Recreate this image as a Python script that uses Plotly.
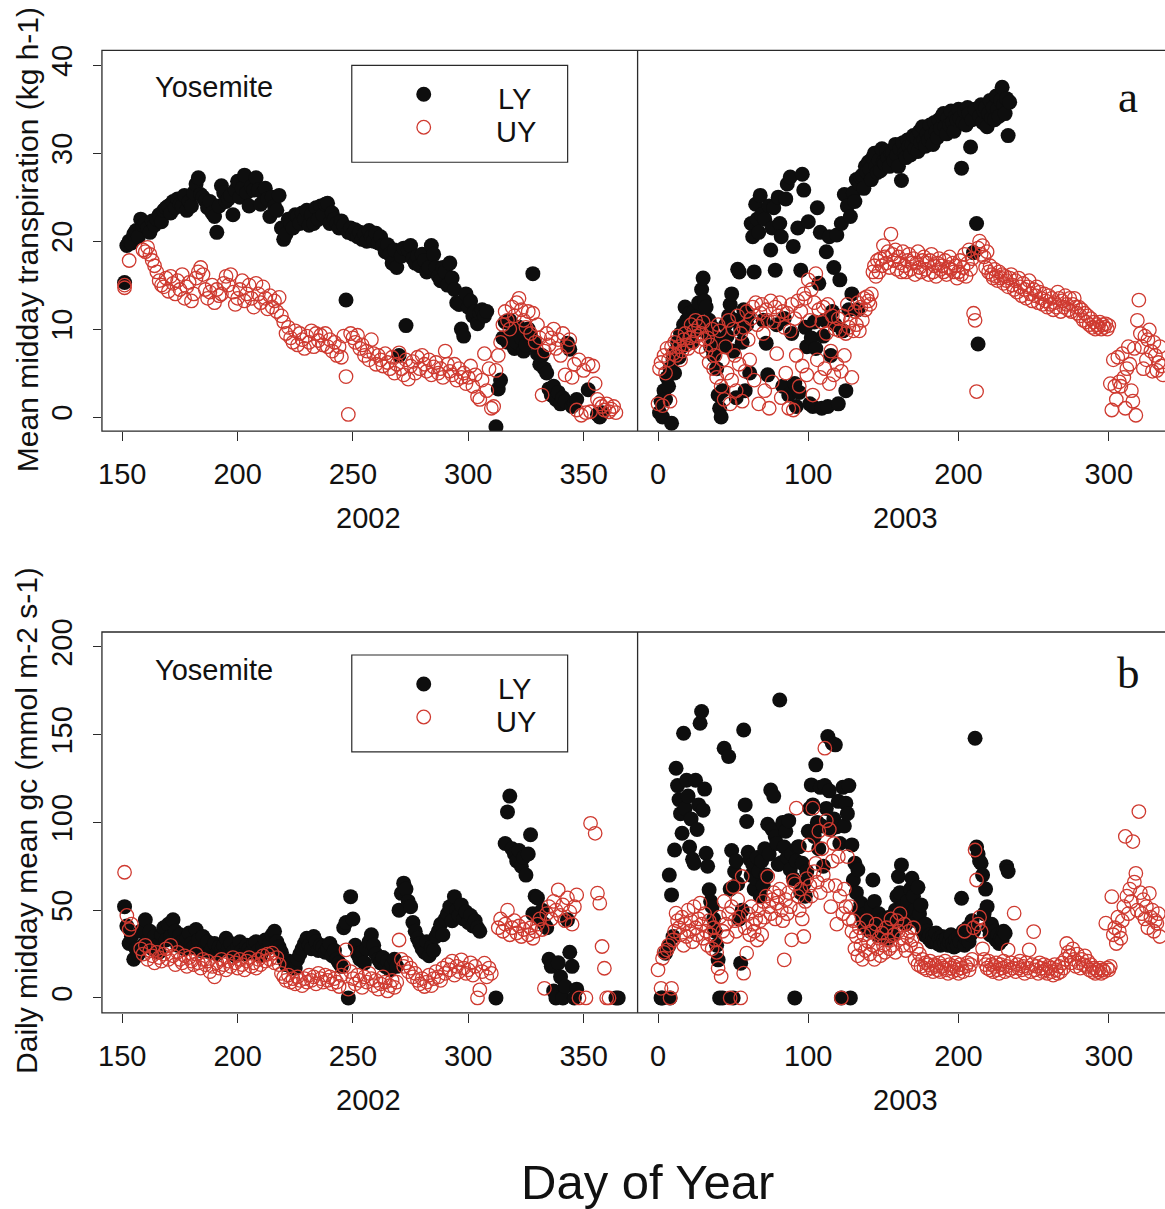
import plotly.graph_objects as go

# ---------------- data (day of year, value) ----------------
# Panel a: mean midday transpiration (kg h-1)
ly_trans_2002 = [
 (151,15.3),(152,19.5),(153,20.0),(154,19.8),(155,20.8),(156,21.2),(157,20.5),(158,22.5),(159,21.8),(160,22.0),
 (161,21.5),(162,21.0),(163,22.3),(164,21.8),(165,22.5),(166,23.0),(167,22.2),(168,23.5),(169,23.8),(170,24.0),
 (171,23.2),(172,24.5),(173,23.8),(174,24.8),(175,24.2),(176,24.0),(177,25.2),(178,23.5),(179,24.5),(180,24.0),
 (181,25.5),(182,26.5),(183,27.2),(184,25.3),(185,25.0),(186,24.6),(187,23.8),(188,24.5),(189,23.2),(190,22.8),
 (191,21.0),(192,24.0),(193,26.3),(194,25.5),(195,24.5),(196,24.8),(197,25.2),(198,23.0),(199,25.8),(200,26.8),
 (201,25.0),(202,26.0),(203,27.5),(204,25.5),(205,24.0),(206,26.2),(207,25.8),(208,27.2),(209,25.8),(210,24.2),
 (211,25.5),(212,26.0),(213,24.8),(214,22.8),(215,25.0),(216,24.0),(217,23.5),(218,25.2),(219,21.5),(220,20.2),
 (221,20.8),(222,22.5),(223,22.0),(224,21.5),(225,23.0),(226,22.8),(227,22.0),(228,23.2),(229,22.5),(230,23.5),
 (231,21.8),(232,23.0),(233,22.0),(234,23.8),(235,22.5),(236,24.0),(237,23.0),(238,24.2),(239,24.3),(240,22.0),
 (241,23.2),(242,22.5),(243,22.0),(244,21.5),(245,22.3),(246,21.8),(247,13.3),(248,21.0),(249,21.5),(250,20.8),
 (251,21.3),(252,20.5),(253,21.0),(254,20.2),(255,20.8),(256,20.0),(257,21.2),(258,20.5),(259,20.0),(260,20.9),
 (261,19.8),(262,20.5),(263,19.5),(264,18.8),(265,19.6),(266,18.5),(267,17.5),(268,19.0),(269,17.0),(270,7.0),
 (271,18.3),(272,19.2),(273,10.4),(274,19.0),(275,19.5),(276,18.0),(277,17.5),(278,18.3),(279,17.2),(280,18.5),
 (281,17.8),(282,16.5),(283,17.0),(284,19.5),(285,18.5),(286,17.0),(287,16.0),(288,15.5),(289,17.0),(290,16.5),
 (291,15.0),(292,17.5),(293,15.8),(294,14.5),(295,13.0),(296,12.8),(297,10.0),(298,9.2),(299,14.0),(300,12.5),
 (301,13.2),(302,11.5),(303,12.0),(304,10.6),(305,11.8),(306,12.2),(307,11.5),(308,12.0),
 (312,-1.1),(313,3.2),(314,4.2),(315,9.0),(316,10.8),(317,8.5),(318,11.0),(319,9.5),(320,7.8),(321,8.5),
 (322,10.2),(323,9.0),(324,7.5),(325,8.2),(326,10.0),(327,9.2),(328,16.3),(329,8.5),(330,7.2),(331,6.0),
 (332,7.0),(333,5.5),(334,5.0),(335,3.2),(336,2.5),(337,3.5),(338,2.0),(339,2.8),(340,1.5),(341,2.2),
 (342,1.8),(343,8.4),(344,7.7),(345,1.2),(346,1.5),(347,2.0),(352,3.1),(356,0.3),(357,0.0),(358,0.5)]

uy_trans_2002 = [
 (151,15.0),(151,14.7),(153,17.8),(159,19.0),(160,18.8),(161,19.3),(162,18.5),(163,17.8),(164,17.2),(165,16.5),
 (166,15.5),(167,15.0),(168,14.8),(169,15.8),(170,14.3),(171,16.0),(172,15.2),(173,14.0),(174,15.5),(175,14.5),
 (176,16.2),(177,13.5),(178,14.8),(179,15.3),(180,13.2),(181,14.0),(182,15.8),(183,16.5),(184,17.0),(185,16.2),
 (186,14.5),(187,13.5),(188,14.2),(189,15.0),(190,13.0),(191,14.5),(192,13.8),(193,14.0),(194,15.2),(195,16.0),
 (196,15.0),(197,16.2),(198,14.2),(199,12.8),(200,13.5),(201,14.5),(202,15.5),(203,13.2),(204,14.0),(205,15.0),
 (206,13.5),(207,12.5),(208,15.2),(209,14.0),(210,13.0),(211,14.8),(212,13.5),(213,12.3),(214,13.8),(215,12.5),
 (216,13.2),(217,12.0),(218,13.6),(219,11.5),(220,10.8),(221,9.5),(222,10.2),(223,9.0),(224,8.5),(225,9.8),
 (226,8.2),(227,9.5),(228,8.8),(229,7.8),(230,9.2),(231,8.5),(232,9.8),(233,8.0),(234,9.5),(235,8.7),
 (236,9.3),(237,8.2),(238,9.5),(239,8.0),(240,8.8),(241,7.5),(242,8.5),(243,7.0),(244,8.0),(245,6.8),
 (246,9.2),(247,4.6),(248,0.3),(249,9.5),(250,9.0),(251,8.5),(252,9.3),(253,7.8),(254,8.2),(255,7.0),
 (256,7.5),(257,6.5),(258,8.8),(259,7.2),(260,6.0),(261,7.0),(262,6.5),(263,5.8),(264,7.2),(265,6.2),
 (266,5.5),(267,6.8),(268,5.0),(269,6.0),(270,7.3),(271,5.5),(272,4.8),(273,6.5),(274,4.3),(275,5.8),
 (276,6.3),(277,5.0),(278,6.8),(279,5.5),(280,7.0),(281,6.0),(282,5.2),(283,6.5),(284,4.8),(285,5.7),
 (286,6.2),(287,5.0),(288,5.5),(289,4.5),(290,7.5),(291,6.0),(292,5.2),(293,4.8),(294,6.0),(295,4.2),
 (296,5.5),(297,4.5),(298,5.0),(299,3.8),(300,4.5),(301,5.8),(302,3.5),(303,4.8),(304,2.3),(305,2.0),
 (306,4.2),(307,7.2),(308,3.0),(309,5.5),(310,1.0),(311,1.2),(312,5.3),(313,7.0),(314,8.5),(315,10.5),
 (316,12.0),(317,11.0),(318,10.0),(319,12.5),(320,11.5),(321,13.0),(322,13.5),(323,12.2),(324,11.0),(325,10.2),
 (326,12.0),(327,9.5),(328,11.8),(329,8.5),(330,10.5),(331,9.0),(332,2.5),(333,7.5),(334,9.5),(335,8.2),
 (336,9.0),(337,10.0),(338,7.8),(339,8.8),(340,7.0),(341,9.5),(342,4.8),(343,8.0),(344,8.8),(345,4.5),
 (346,6.0),(347,0.8),(348,6.5),(349,0.2),(350,5.3),(351,0.5),(352,6.0),(353,0.6),(354,5.8),(355,3.8),
 (356,2.0),(357,1.5),(358,1.2),(359,0.8),(360,1.5),(361,0.6),(362,0.9),(363,1.2),(364,0.5)]

ly_trans_2003 = [
 (1,0.5),(2,1.8),(3,0.0),(4,3.0),(5,2.0),(6,4.5),(7,3.5),(8,5.5),(9,-0.7),(10,6.5),
 (11,5.0),(12,7.5),(13,8.5),(14,6.8),(15,9.5),(16,8.0),(17,10.5),(18,12.5),(19,11.0),(20,9.0),
 (21,11.8),(22,10.2),(23,8.5),(24,12.0),(25,9.8),(26,11.5),(27,13.0),(28,10.5),(29,14.5),(30,15.8),
 (31,13.2),(32,12.5),(33,9.5),(34,11.0),(35,8.0),(36,10.2),(37,7.0),(38,9.0),(39,5.5),(40,2.5),
 (41,1.0),(42,0.0),(43,3.0),(44,8.0),(45,10.5),(46,9.2),(47,11.5),(48,12.8),(49,14.0),(50,7.5),
 (51,11.0),(52,2.2),(53,16.8),(54,16.5),(55,10.0),(56,8.5),(57,12.2),(58,3.0),(59,10.5),(60,11.5),
 (61,5.0),(62,22.0),(63,20.5),(64,16.5),(65,24.2),(66,22.5),(67,21.0),(68,25.2),(69,23.0),(70,11.0),
 (71,22.5),(72,8.4),(73,4.8),(74,24.0),(75,19.0),(76,21.5),(77,23.8),(78,16.7),(79,10.5),(80,25.0),
 (81,22.0),(82,20.5),(83,3.5),(84,11.2),(85,24.8),(86,26.5),(87,2.5),(88,27.3),(89,9.5),(90,19.4),
 (91,3.8),(92,1.2),(93,21.5),(94,2.8),(95,16.7),(96,27.6),(97,25.8),(98,10.2),(99,8.0),(100,22.2),
 (101,1.5),(102,9.0),(103,1.2),(104,10.8),(105,7.8),(106,23.8),(107,15.2),(108,21.0),(109,1.0),(110,9.2),
 (111,11.0),(112,18.8),(113,1.2),(114,20.5),(115,7.0),(116,12.0),(117,17.0),(118,10.5),(119,20.7),(120,1.5),
 (121,15.6),(122,22.0),(123,9.8),(124,25.3),(125,3.0),(126,24.0),(127,12.2),(128,22.8),(129,14.0),(130,25.5),
 (131,24.5),(132,27.0),(133,12.2),(134,26.5),(135,27.3),(136,27.5),(137,26.0),(138,28.5),(139,27.8),(140,29.0),
 (141,28.2),(142,27.0),(143,29.5),(144,30.0),(145,28.5),(146,27.8),(147,29.2),(148,28.0),(149,30.5),(150,29.0),
 (151,28.8),(152,30.2),(153,29.5),(154,28.5),(155,30.0),(156,30.0),(157,29.2),(158,31.0),(159,29.8),(160,28.5),
 (161,30.5),(162,26.9),(163,31.2),(164,30.0),(165,29.5),(166,31.5),(167,30.8),(168,29.8),(169,31.0),(170,32.0),
 (171,30.5),(172,31.8),(173,30.2),(174,32.5),(175,31.2),(176,33.0),(177,31.5),(178,30.8),(179,32.2),(180,31.5),
 (181,33.2),(182,32.0),(183,31.0),(184,33.5),(185,32.5),(186,31.8),(187,33.8),(188,32.8),(189,34.2),(190,34.5),
 (191,33.0),(192,32.2),(193,34.0),(194,33.2),(195,34.8),(196,33.5),(197,32.5),(198,34.2),(199,33.8),(200,35.0),
 (201,34.0),(202,28.3),(203,33.5),(204,34.8),(205,33.2),(206,35.2),(207,34.5),(208,30.7),(209,33.8),(210,18.7),
 (211,35.0),(212,22.0),(213,8.3),(214,34.2),(215,35.5),(216,33.5),(217,34.8),(218,35.2),(219,33.0),(220,34.5),
 (221,36.0),(222,34.0),(223,35.2),(224,33.8),(225,36.5),(226,35.0),(227,34.2),(228,36.0),(229,37.5),(230,35.5),
 (231,34.5),(232,36.2),(233,32.0),(234,35.8)]

uy_trans_2003 = [
 (0,1.5),(1,5.5),(2,6.2),(3,1.3),(4,7.0),(5,5.0),(6,7.8),(7,6.5),(8,1.8),(9,8.0),
 (10,7.2),(11,8.5),(12,7.0),(13,9.2),(14,8.0),(15,6.5),(16,7.5),(17,8.8),(18,9.5),(19,8.2),
 (20,7.8),(21,9.0),(22,10.5),(23,8.5),(24,9.8),(25,11.0),(26,9.2),(27,10.3),(28,8.0),(29,9.5),
 (30,10.8),(31,8.8),(32,7.5),(33,9.0),(34,6.2),(35,8.2),(36,10.0),(37,5.5),(38,7.0),(39,4.5),
 (40,10.5),(41,9.8),(42,3.5),(43,6.5),(44,2.0),(45,8.0),(46,5.0),(47,11.0),(48,1.5),(49,4.2),
 (50,10.0),(51,7.0),(52,3.0),(53,11.5),(54,6.0),(55,9.5),(56,1.8),(57,10.2),(58,5.2),(59,12.0),
 (60,8.8),(61,6.5),(62,11.2),(63,12.5),(64,4.2),(65,13.0),(66,10.5),(67,1.5),(68,11.8),(69,12.8),
 (70,9.5),(71,3.0),(72,12.2),(73,11.0),(74,1.0),(75,13.2),(76,4.0),(77,10.8),(78,12.5),(79,7.2),
 (80,11.5),(81,13.0),(82,2.2),(83,12.0),(84,10.2),(85,5.0),(86,11.8),(87,1.0),(88,9.8),(89,12.8),
 (90,0.8),(91,11.2),(92,7.0),(93,13.2),(94,3.5),(95,12.0),(96,5.8),(97,14.0),(98,13.5),(99,4.8),
 (100,15.6),(101,11.0),(102,14.5),(103,2.5),(104,13.0),(105,16.3),(106,6.5),(107,12.2),(108,4.5),(109,10.8),
 (110,12.5),(111,5.5),(112,9.5),(113,12.8),(114,3.8),(115,7.5),(116,11.5),(117,4.8),(118,10.0),(119,6.0),
 (120,11.2),(121,9.8),(122,5.2),(123,11.5),(124,7.0),(125,9.5),(126,12.8),(127,10.2),(128,11.0),(129,4.5),
 (130,9.8),(131,12.0),(132,10.5),(133,13.0),(134,9.8),(135,12.5),(136,11.0),(137,13.5),(138,12.2),(139,13.7),
 (140,13.2),(141,12.8),(142,14.0),(143,16.5),(144,17.2),(145,16.0),(146,17.8),(147,16.5),(148,18.0),(149,17.2),
 (150,19.5),(151,18.2),(152,17.5),(153,18.8),(154,17.0),(155,20.8),(156,18.5),(157,17.8),(158,19.0),(159,16.8),
 (160,18.2),(161,17.5),(162,16.5),(163,18.8),(164,17.2),(165,16.5),(166,17.8),(167,18.5),(168,16.8),(169,17.5),
 (170,18.0),(171,16.2),(172,17.5),(173,18.8),(174,17.0),(175,16.5),(176,17.8),(177,18.2),(178,16.8),(179,17.5),
 (180,16.2),(181,17.8),(182,18.5),(183,16.5),(184,17.2),(185,16.0),(186,17.5),(187,18.0),(188,16.8),(189,17.2),
 (190,16.5),(191,17.8),(192,16.2),(193,17.0),(194,18.2),(195,16.8),(196,17.5),(197,16.5),(198,17.2),(199,15.8),
 (200,16.5),(201,17.8),(202,16.2),(203,17.0),(204,18.5),(205,16.0),(206,17.5),(207,19.0),(208,16.8),(209,18.0),
 (210,11.8),(211,11.0),(212,2.9),(213,19.2),(214,20.0),(215,18.5),(216,19.5),(217,18.2),(218,17.0),(219,18.8),
 (220,16.5),(221,17.2),(222,16.2),(223,15.8),(224,16.8),(225,16.0),(226,15.5),(227,16.5),(228,15.8),(229,16.2),
 (230,15.2),(231,16.0),(232,15.5),(233,14.8),(234,15.8),(235,16.2),(236,15.0),(237,14.5),(238,15.5),(239,14.2),
 (240,15.8),(241,14.8),(242,13.8),(243,15.2),(244,14.5),(245,13.5),(246,14.8),(247,15.5),(248,14.0),(249,13.2),
 (250,14.5),(251,13.8),(252,14.8),(253,13.0),(254,14.2),(255,13.5),(256,12.8),(257,14.0),(258,13.2),(259,12.5),
 (260,13.8),(261,12.8),(262,13.5),(263,12.2),(264,13.0),(265,12.5),(266,14.2),(267,13.5),(268,12.0),(269,13.2),
 (270,12.5),(271,13.8),(272,12.8),(273,12.2),(274,13.5),(275,12.0),(276,12.8),(277,13.5),(278,12.5),(279,11.8),
 (280,12.5),(281,11.5),(282,12.2),(283,11.0),(284,11.8),(285,10.8),(286,11.5),(287,10.5),(288,11.2),(289,10.2),
 (290,10.8),(291,10.0),(292,10.5),(293,10.2),(294,10.8),(295,10.0),(296,10.5),(297,10.2),(298,10.6),(299,10.0),
 (300,10.4),(301,3.8),(302,0.8),(303,6.5),(304,3.5),(305,2.0),(306,6.8),(307,4.0),(308,3.5),(309,7.2),
 (310,4.5),(311,1.0),(312,5.5),(313,8.0),(314,6.0),(315,3.0),(316,1.8),(317,7.8),(318,0.2),(319,11.0),
 (320,13.3),(321,9.5),(322,8.0),(323,5.5),(324,9.2),(325,6.5),(326,8.8),(327,9.9),(328,7.5),(329,5.2),
 (330,8.5),(331,7.0),(332,5.3),(333,6.2),(334,8.0),(335,5.8),(336,4.8)]

# Panel b: daily midday mean gc (mmol m-2 s-1)
ly_gc_2002 = [
 (151,52),(152,41),(153,31),(154,35),(155,22),(156,28),(157,25),(158,38),(159,30),(160,44.5),
 (161,33),(162,38),(163,28),(164,35),(165,30),(166,26),(167,36),(168,40),(169,33),(170,42),
 (171,35),(172,44.5),(173,38),(174,30),(175,36),(176,32),(177,28),(178,34),(179,37),(180,31),
 (181,29),(182,39),(183,33),(184,27),(185,35),(186,30),(187,32),(188,26),(189,28),(190,31),
 (191,25),(192,29),(193,27),(194,30),(195,34),(196,28),(197,31),(198,26),(199,24),(200,29),
 (201,32),(202,27),(203,25),(204,30),(205,28),(206,26),(207,31),(208,32),(209,27),(210,24),
 (211,29),(212,33),(213,28),(214,31),(215,36),(216,38),(217,32),(218,29),(219,26),(220,22),
 (221,19),(222,21),(223,18),(224,20),(225,17),(226,22),(227,25),(228,28),(229,31),(230,34),
 (231,30),(232,28),(233,35),(234,32),(235,27),(236,30),(237,29),(238,26),(239,28),(240,31),
 (241,24),(242,27),(243,22),(244,20),(245,18),(246,40),(247,43),(248,0),(249,57.7),(250,45),
 (251,30),(252,25),(253,22),(254,26),(255,20),(256,28),(257,32),(258,36),(259,30),(260,25),
 (261,22),(262,20),(263,23),(264,18),(265,21),(266,16),(267,19),(268,22),(269,18),(270,50),
 (271,59.6),(272,65.4),(273,62),(274,55),(275,52),(276,43),(277,38),(278,34),(279,31),(280,28),
 (281,26),(282,32),(283,24),(284,29),(285,27),(286,35),(287,38),(288,42),(289,36),(290,45),
 (291,48),(292,52),(293,44),(294,57.7),(295,50),(296,47),(297,53),(298,45),(299,49),(300,43),
 (301,47),(302,41),(303,44),(304,40),(305,38),(312,0),(316,88),(317,106),(318,115),(319,85),
 (320,82),(321,78),(322,84),(323,75),(324,80),(325,70),(326,82),(327,93),(328,48),(329,58),
 (330,57),(331,45),(332,50),(333,42),(334,40),(335,22),(336,18),(337,4),(338,0),(339,20),
 (340,12),(341,0),(342,6.5),(343,44.5),(344,26),(345,18),(346,0),(347,5),(364,0),(365,0)]

uy_gc_2002 = [
 (151,71.6),(152,47),(153,39),(154,42),(158,28),(159,25),(160,30),(161,22),(162,27),(163,24),
 (164,20),(165,26),(166,23),(167,21),(168,25),(169,28),(170,22),(171,30),(172,24),(173,19),
 (174,26),(175,22),(176,20),(177,24),(178,18),(179,23),(180,21),(181,19),(182,25),(183,20),
 (184,17),(185,22),(186,19),(187,21),(188,15),(189,18),(190,12),(191,20),(192,17),(193,22),
 (194,19),(195,16),(196,21),(197,18),(198,23),(199,20),(200,17),(201,22),(202,19),(203,16),
 (204,21),(205,23),(206,18),(207,20),(208,17),(209,22),(210,19),(211,24),(212,21),(213,25),
 (214,22),(215,25.5),(216,20),(217,23),(218,19),(219,14),(220,12),(221,10),(222,13),(223,9),
 (224,11),(225,8),(226,12),(227,10),(228,7),(229,11),(230,9),(231,13),(232,10),(233,12),
 (234,8),(235,14),(236,11),(237,9),(238,13),(239,10),(240,12),(241,8),(242,11),(243,9),
 (244,6.5),(245,13),(246,17.9),(247,27.4),(248,5),(249,15),(250,11),(251,8),(252,13),(253,10),
 (254,6),(255,12),(256,9),(257,14),(258,11),(259,7),(260,10),(261,5),(262,8),(263,12),
 (264,9),(265,4),(266,7),(267,10),(268,6),(269,9),(270,33),(271,22),(272,18),(273,20),
 (274,15),(275,17),(276,12),(277,14),(278,10),(279,8),(280,11),(281,6.5),(282,9),(283,13),
 (284,7),(285,11),(286,15),(287,12),(288,10),(289,17),(290,14),(291,19),(292,16),(293,21),
 (294,13),(295,18),(296,15),(297,21.7),(298,17),(299,14),(300,16),(301,20),(302,13),(303,18),
 (304,0),(305,4.6),(306,15),(307,19.8),(308,12),(309,17),(310,14),(313,40),(314,45),(315,38),
 (316,42),(317,50),(318,36),(319,40),(320,44),(321,37),(322,41),(323,35),(324,39),(325,43),
 (326,36),(327,40),(328,34),(329,38),(330,42),(331,45),(332,39),(333,5.5),(334,48),(335,52),
 (336,45),(337,55),(338,50),(339,61.6),(340,47),(341,53),(342,44),(343,57),(344,49),(345,42),
 (346,52),(347,58.7),(348,0),(351,0),(353,99.5),(355,93.8),(356,59.7),(357,54),(358,29.3),(359,16.9),
 (360,0),(361,0)]

ly_gc_2003 = [
 (2,0),(3,0),(5,25.5),(7,29.3),(8,0),(7.5,70),(9,58.7),(10,35),(11,84.3),(12,130.9),
 (13,121),(14,113),(15,105),(16,93.8),(17,150.8),(18,108),(19,124),(20,115),(21,86),(22,102),
 (23,79),(24,76.7),(25,124),(26,96),(27,110),(28,156.5),(29,163.2),(30,107),(31,119),(32,82.4),
 (33,75),(34,61.6),(35,55),(36,52),(37,45),(38,38),(39,30),(40,21.7),(41,0),(43,0),
 (44,142.3),(47,137.5),(48,62),(49,84),(50,0),(51,72),(52,78),(53,65),(54,45),(55,19.8),
 (56,50),(57,152.7),(58,110),(59,100.5),(60,83),(61,79),(62,70),(63,76),(64,62),(65,68),
 (66,80),(67,72),(68,58),(69,78),(70,64),(71,85),(72,70),(73,99),(74,82),(75,118.5),
 (76,96),(77,115),(78,92),(79,88),(80,76),(81,169.8),(82,77),(83,100),(84,86),(85,95),
 (86,80),(87,101),(88,73),(89,82),(90,68),(91,0),(92,78),(93,86),(94,86.2),(95,60),
 (96,76.7),(97,65),(98,58),(99,72),(100,95),(101,108),(102,121.4),(103,110),(104,92),(105,132.8),
 (106,100),(107,85),(108,120),(109,98),(110,75),(111,121),(112,108),(113,148.9),(114,118),(115,96),
 (116,145),(117,102),(118,144.2),(119,97.6),(120,112),(121,88),(122,0),(123,120),(124,98),(125,111),
 (126,105),(127,121),(128,0),(129,87.2),(130,67.2),(131,76.7),(132,60),(133,73),(134,50),(135,54),
 (136,46),(137,42),(138,48),(139,40),(140,44),(141,38),(142,52),(143,67.2),(144,55),(145,42),
 (146,36),(147,48),(148,40),(149,35),(150,45),(151,38),(152,42),(153,34),(154,46),(155,40),
 (156,36),(157,44),(158,50),(159,58),(160,69.2),(161,60),(162,75.8),(163,52),(164,48),(165,42),
 (166,55),(167,46),(168,62),(169,68.2),(170,58),(171,50),(172,44),(173,63),(174,48),(175,53),
 (176,40),(177,36),(178,42),(179,38),(180,34),(181,36),(182,32),(183,35),(184,33),(185,37),
 (186,31),(187,34),(188,30),(189,35),(190,33),(191,31),(192,34),(193,30),(194,32),(195,36),
 (196,31),(197,29),(198,33),(199,30),(200,35),(201,32),(202,56.8),(203,38),(204,30),(205,34),
 (206,40),(207,32),(208,36),(209,44),(210,38),(211,148),(212,86),(213,82),(214,78),(215,76.7),
 (216,70),(217,48),(218,62),(219,52),(220,40),(221,36),(222,42),(223,35),(224,38),(225,33),
 (226,36),(227,31),(228,34),(229,33),(230,38),(231,36.9),(232,74.8),(233,72)]

uy_gc_2003 = [
 (0,16),(2,5.5),(3,22.6),(4,26),(6,27.4),(7,30),(8,0),(9,5.5),(10,33),(11,38),
 (12,48.3),(13,44),(14,40),(15,36),(16,46),(17,30),(18,42),(19,35),(20,50),(21,38),
 (22,44),(23,32),(24,52),(25,40),(26,36),(27,45),(28,54),(29,42),(30,34),(31,48),
 (32,38),(33,30),(34,44),(35,36),(36,28),(37,40),(38,33),(39,26),(40,16.9),(41,46),
 (42,12.2),(43,38),(44,55),(45,42),(46,35),(47,48),(48,0),(49,52),(50,63.4),(51,44),
 (52,38),(53,56),(54,46),(55,0),(56,69.2),(57,14.1),(58,40),(59,25.5),(60,48),(61,36),
 (62,52),(63,42),(64,38),(65,45),(66,33),(67,50),(68,44),(69,36),(70,55),(71,46),
 (72,58),(73,69.2),(74,52),(75,48),(76,56),(77,60),(78,45),(79,54),(80,58),(81,62),
 (82,50),(83,44),(84,21.7),(85,56),(86,48),(87,60),(88,52),(89,33.1),(90,67),(91,65),
 (92,108.1),(93,58),(94,50),(95,62),(96,45),(97,35),(98,55),(99,68),(100,87.2),(101,64),
 (102,58),(103,108.1),(104,72),(105,76.7),(106,66),(107,95),(108,60),(109,85),(110,70),(111,142.3),
 (112,101),(113,64),(114,96),(115,52),(116,78),(117,88),(118,64),(119,42),(120,80.5),(121,58),
 (122,0),(123,48),(124,62),(125,52),(126,80.5),(127,45),(128,52),(129,38),(130,44),(131,28),
 (132,35),(133,24),(134,40),(135,30),(136,22),(137,36),(138,27),(139,44),(140,32),(141,25),
 (142,38),(143,30),(144,22),(145,42),(146,28),(147,34),(148,24),(149,37),(150,30),(151,26),
 (152,40),(153,33),(154,28),(155,45),(156,30),(157,36),(158,26),(159,44),(160,38),(161,48),
 (162,34),(163,30),(164,42),(165,27),(166,35),(167,38),(168,30),(169,33),(170,40),(171,22),
 (172,28),(173,19),(174,25),(175,18),(176,22),(177,17),(178,20),(179,16),(180,19),(181,21),
 (182,17),(183,15),(184,19),(185,18),(186,16),(187,20),(188,15),(189,18),(190,17),(191,21),
 (192,16),(193,14),(194,19),(195,17),(196,15),(197,18),(198,20),(199,16),(200,14),(201,19),
 (202,17),(203,15),(204,38),(205,18),(206,20),(207,16),(208,19),(209,22),(210,40),(211,84.3),
 (212,67.2),(213,42),(214,46),(215,38),(216,28),(217,22),(218,19),(219,17),(220,21),(221,16),
 (222,19),(223,15),(224,18),(225,20),(226,16),(227,14),(228,19),(229,17),(230,21),(231,15),
 (232,18),(233,27.4),(234,16),(235,20),(236,17),(237,48.3),(238,15),(239,19),(240,17),(241,21),
 (242,16),(243,18),(244,14),(245,20),(246,17),(247,27.4),(248,15),(249,19),(250,37.8),(251,16),
 (252,18),(253,14),(254,20),(255,17),(256,15),(257,19),(258,16),(259,14),(260,18),(261,17),
 (262,15),(263,13),(264,19),(265,16),(266,14),(267,18),(268,15),(269,20),(270,17),(271,22),
 (272,31),(273,26),(274,24),(275,20),(276,28),(277,22),(278,18),(279,25),(280,20),(281,17),
 (282,22),(283,19),(284,24),(285,18),(286,21),(287,16),(288,19),(289,15),(290,17),(291,14),
 (292,16),(293,15),(294,17),(295,14),(296,16),(297,15),(298,42.6),(299,17),(300,16),(301,18),
 (302,57.7),(303,36),(304,40),(305,31),(306,46),(307,38),(308,34),(309,44),(310,52),(311,92),
 (312,58),(313,48),(314,62),(315,55),(316,89.1),(317,66),(318,71),(319,50),(320,106.2),(321,60),
 (322,48),(323,56),(324,45),(325,52),(326,40),(327,59.6),(328,46),(329,50),(330,38),(331,44),
 (332,42.6),(333,48),(334,35)]

x_ticks_2002 = [150, 200, 250, 300, 350]
x_ticks_2003 = [0, 100, 200, 300]
y_ticks_trans = [0, 10, 20, 30, 40]
y_ticks_gc = [0, 50, 100, 150, 200]
series_names = ["LY", "UY"]
year_labels = ["2002", "2003"]

# ---------------- styling ----------------
W, H = 1165, 1209
# placement correction observed in the rendered page
X_OFF, X_SC = 3.0, 0.9972
Y_OFF, Y_SC = 12.7, 0.9897
def px(x): return ((x - X_OFF) / X_SC) / W
def py(y): return 1 - ((y - Y_OFF) / Y_SC) / H

BLACK = "#0e0e0e"
RED = "#cf3a30"
FRAME = "#2a2a2a"
FONT = "Liberation Sans, Arial, sans-serif"
SERIF = "Liberation Serif, Times New Roman, serif"

fig = go.Figure()

def add_pair(ly, uy, xa, ya):
    fig.add_trace(go.Scatter(x=[d for d, v in ly], y=[v for d, v in ly], mode="markers",
                             xaxis=xa, yaxis=ya, showlegend=False, name=series_names[0],
                             marker=dict(symbol="circle", size=15, color=BLACK, line=dict(width=0))))
    fig.add_trace(go.Scatter(x=[d for d, v in uy], y=[v for d, v in uy], mode="markers",
                             xaxis=xa, yaxis=ya, showlegend=False, name=series_names[1],
                             marker=dict(symbol="circle-open", size=13.5, color=RED, line=dict(width=1.3))))

add_pair(ly_trans_2002, uy_trans_2002, "x", "y")
add_pair(ly_trans_2003, uy_trans_2003, "x2", "y")
add_pair(ly_gc_2002, uy_gc_2002, "x3", "y3")
add_pair(ly_gc_2003, uy_gc_2003, "x4", "y3")

X_L, X_M, X_R = 101, 637, 1165
ROW_A = (50, 431)
ROW_B = (632, 1013)
R2002 = [141.2, 373.4]
R2003 = [-13.6, 337.4]

tickfont = dict(family=FONT, size=29, color="#111")
common_x = dict(showgrid=False, zeroline=False, showline=False, ticks="outside", ticklen=9,
                tickwidth=1.2, tickcolor=FRAME, tickfont=tickfont, ticklabelstandoff=8)
common_y = dict(showgrid=False, zeroline=False, showline=False, ticks="outside", ticklen=8,
                tickwidth=1.2, tickcolor=FRAME, tickfont=tickfont, tickangle=-90, ticklabelstandoff=9)

fig.update_layout(
    width=W, height=H, margin=dict(l=0, r=0, t=0, b=0),
    paper_bgcolor="white", plot_bgcolor="white", showlegend=False,
    xaxis=dict(domain=[px(X_L), px(X_M)], range=R2002, anchor="y", tickvals=x_ticks_2002, **common_x),
    xaxis2=dict(domain=[px(X_M), 1.0], range=R2003, anchor="y", tickvals=x_ticks_2003, **common_x),
    xaxis3=dict(domain=[px(X_L), px(X_M)], range=R2002, anchor="y3", tickvals=x_ticks_2002, **common_x),
    xaxis4=dict(domain=[px(X_M), 1.0], range=R2003, anchor="y3", tickvals=x_ticks_2003, **common_x),
    yaxis=dict(domain=[py(ROW_A[1]), py(ROW_A[0])], range=[-1.6, 41.7], anchor="x",
               tickvals=y_ticks_trans, **common_y),
    yaxis3=dict(domain=[py(ROW_B[1]), py(ROW_B[0])], range=[-8.5, 208.5], anchor="x3",
                tickvals=y_ticks_gc, **common_y),
)

shapes = []
for (top, bot) in (ROW_A, ROW_B):
    shapes.append(dict(type="rect", xref="paper", yref="paper", x0=px(X_L), x1=1.002,
                       y0=py(bot), y1=py(top), line=dict(color=FRAME, width=1.3), layer="above"))
    shapes.append(dict(type="line", xref="paper", yref="paper", x0=px(X_M), x1=px(X_M),
                       y0=py(bot), y1=py(top), line=dict(color=FRAME, width=1.3), layer="above"))

annotations = []
def text(x, y, s, size=29, family=FONT, angle=0):
    annotations.append(dict(x=px(x), y=py(y), xref="paper", yref="paper", text=s, showarrow=False,
                            xanchor="center", yanchor="middle", textangle=angle,
                            font=dict(family=family, size=size, color="#111")))

# legend boxes and panel labels: (box top, "Yosemite" y, letter y, letter)
for top, yos_y, let_y, letter in ((65, 87, 97, "a"), (655, 670, 673, "b")):
    off = top - 65
    shapes.append(dict(type="rect", xref="paper", yref="paper", x0=px(351), x1=px(567),
                       y0=py(162 + off), y1=py(65 + off), line=dict(color=FRAME, width=1.2),
                       fillcolor="white", layer="above"))
    shapes.append(dict(type="circle", xref="paper", yref="paper", xsizemode="pixel", ysizemode="pixel",
                       xanchor=px(423), yanchor=py(94 + off), x0=-7.5, x1=7.5, y0=-7.5, y1=7.5,
                       fillcolor=BLACK, line=dict(width=0), layer="above"))
    shapes.append(dict(type="circle", xref="paper", yref="paper", xsizemode="pixel", ysizemode="pixel",
                       xanchor=px(423), yanchor=py(127 + off), x0=-6.8, x1=6.8, y0=-6.8, y1=6.8,
                       line=dict(color=RED, width=1.3), layer="above"))
    text(514, 99 + off, series_names[0])
    text(515, 132 + off, series_names[1])
    text(213, yos_y, "Yosemite")
    text(1128, let_y, letter, size=45, family=SERIF)

for yy in (518, 1100):
    text(368, yy, year_labels[0])
    text(905, yy, year_labels[1])

text(26, 239, "Mean midday transpiration (kg h-1)", size=30, angle=-90)
text(26, 820, "Daily midday mean gc (mmol m-2 s-1)", size=30, angle=-90)
text(647, 1182, "Day of Year", size=49)

fig.update_layout(shapes=shapes, annotations=annotations)
fig.write_html("out.html")
